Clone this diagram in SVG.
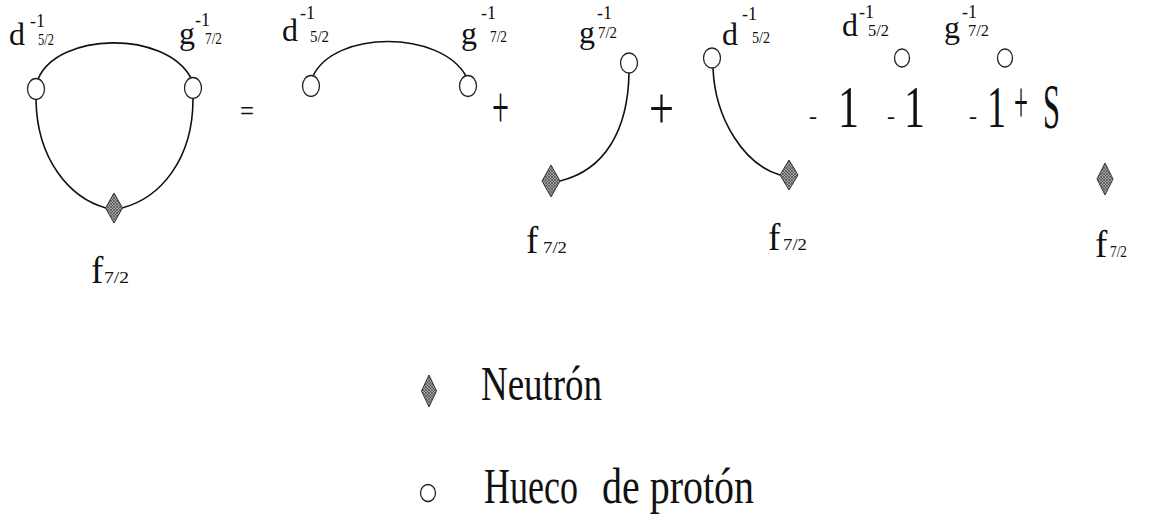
<svg xmlns="http://www.w3.org/2000/svg" width="1167" height="518" viewBox="0 0 1167 518">
<defs>
<pattern id="hatch" width="3" height="3" patternUnits="userSpaceOnUse"><rect width="3" height="3" fill="#a4a4a4"/><path d="M0,0L3,3M3,0L0,3" stroke="#3a3a3a" stroke-width="0.6"/></pattern>
<style>
text{font-family:"Liberation Serif","Times New Roman",serif;fill:#111}
.big{font-size:32px}
.f{font-size:37px}
.sup{font-size:18px}
.sub{font-size:17px}
.hole{fill:#fff;stroke:#222;stroke-width:1.3}
.neu{fill:url(#hatch);stroke:#333;stroke-width:1}
.line{fill:none;stroke:#111;stroke-width:1.6}
.op{font-size:60px}
.leg{font-size:48px}
</style>
</defs>
<rect width="1167" height="518" fill="#fff"/>

<g id="connectors">
<path class="line" d="M38,79 C58,32 165,30 191,78"/>
<path class="line" d="M36,100 C37,160 70,198 106,208"/>
<path class="line" d="M193,99 C193,160 160,198 122,208"/>
<path class="line" d="M313,76 C335,30 440,30 466,76"/>
<path class="line" d="M629,73 C628,130 605,170 560,181"/>
<path class="line" d="M713,68 C715,120 745,165 780,175"/>
</g>

<!-- Diagram 1 -->
<g id="n1-d">
<ellipse class="hole" cx="36" cy="89" rx="8.5" ry="10.5"/>
<text class="big" x="9" y="45">d</text>
<text class="sup" x="30" y="27">-1</text>
<text class="sub" x="38" y="45" textLength="16" lengthAdjust="spacingAndGlyphs">5/2</text>
</g>
<g id="n1-g">
<ellipse class="hole" cx="193" cy="88" rx="8.5" ry="10.5"/>
<text class="big" x="179" y="44">g</text>
<text class="sup" x="195" y="26">-1</text>
<text class="sub" x="205" y="44" textLength="17" lengthAdjust="spacingAndGlyphs">7/2</text>
</g>
<g id="n1-f">
<polygon class="neu" points="114,193 122.5,208 114,223 105.5,208"/>
<text class="f" x="91" y="283">f</text>
<text class="sub" x="104" y="283" textLength="25" lengthAdjust="spacingAndGlyphs">7/2</text>
</g>

<text id="op-eq" x="240" y="121" style="font-size:30px" textLength="14" lengthAdjust="spacingAndGlyphs">=</text>

<!-- Diagram 2 -->
<g id="n2-d">
<ellipse class="hole" cx="311" cy="86" rx="8.5" ry="10.5"/>
<text class="big" x="282" y="41">d</text>
<text class="sup" x="300" y="19">-1</text>
<text class="sub" x="310" y="42" textLength="19" lengthAdjust="spacingAndGlyphs">5/2</text>
</g>
<g id="n2-g">
<ellipse class="hole" cx="468" cy="86" rx="8.5" ry="10.5"/>
<text class="big" x="461" y="44">g</text>
<text class="sup" x="481" y="19">-1</text>
<text class="sub" x="490" y="42" textLength="17" lengthAdjust="spacingAndGlyphs">7/2</text>
</g>

<text id="op-plus1" class="op" x="492" y="127" textLength="17" lengthAdjust="spacingAndGlyphs">+</text>

<!-- Diagram 3 -->
<g id="n3-g">
<ellipse class="hole" cx="629" cy="63" rx="8.5" ry="10"/>
<text class="big" x="579" y="43">g</text>
<text class="sup" x="597" y="19">-1</text>
<text class="sub" x="598" y="38" textLength="19" lengthAdjust="spacingAndGlyphs">7/2</text>
</g>
<g id="n3-f">
<polygon class="neu" points="551,165 560,181 551,197 542,181"/>
<text class="f" x="526" y="253">f</text>
<text class="sub" x="543" y="253" textLength="24" lengthAdjust="spacingAndGlyphs">7/2</text>
</g>

<text id="op-plus2" class="op" x="649" y="128" textLength="25" lengthAdjust="spacingAndGlyphs">+</text>

<!-- Diagram 4 -->
<g id="n4-d">
<ellipse class="hole" cx="712" cy="58" rx="8.5" ry="10"/>
<text class="big" x="722" y="45">d</text>
<text class="sup" x="742" y="20">-1</text>
<text class="sub" x="752" y="43" textLength="18" lengthAdjust="spacingAndGlyphs">5/2</text>
</g>
<g id="n4-f">
<polygon class="neu" points="789,160 798,175 789,190 780,175"/>
<text class="f" x="768" y="250">f</text>
<text class="sub" x="783" y="250" textLength="24" lengthAdjust="spacingAndGlyphs">7/2</text>
</g>

<!-- Remaining terms -->
<text id="op-minus1" style="font-size:24px" x="809" y="124" textLength="8" lengthAdjust="spacingAndGlyphs">-</text>
<text id="one1" class="op" x="838" y="127" textLength="21" lengthAdjust="spacingAndGlyphs">1</text>

<g id="n5-d">
<ellipse class="hole" cx="902" cy="58" rx="7.5" ry="9"/>
<text class="big" x="842" y="36">d</text>
<text class="sup" x="859" y="18">-1</text>
<text class="sub" x="868" y="36" textLength="21" lengthAdjust="spacingAndGlyphs">5/2</text>
</g>

<text id="op-minus2" style="font-size:24px" x="887" y="124" textLength="8" lengthAdjust="spacingAndGlyphs">-</text>
<text id="one2" class="op" x="904" y="127" textLength="21" lengthAdjust="spacingAndGlyphs">1</text>

<g id="n6-g">
<ellipse class="hole" cx="1005" cy="58" rx="7.5" ry="9"/>
<text class="big" x="944" y="38">g</text>
<text class="sup" x="962" y="18">-1</text>
<text class="sub" x="968" y="36" textLength="21" lengthAdjust="spacingAndGlyphs">7/2</text>
</g>

<text id="op-minus3" style="font-size:24px" x="969" y="124" textLength="8" lengthAdjust="spacingAndGlyphs">-</text>
<text id="one3" class="op" x="987" y="127" textLength="19" lengthAdjust="spacingAndGlyphs">1</text>

<text id="op-plus3" class="op" x="1014" y="122" textLength="14" lengthAdjust="spacingAndGlyphs">+</text>
<text id="S" style="font-size:64px" x="1043" y="128" textLength="17" lengthAdjust="spacingAndGlyphs">S</text>

<g id="n7-f">
<polygon class="neu" points="1105,163 1113,179 1105,195 1097,179"/>
<text class="f" x="1095" y="257">f</text>
<text class="sub" x="1110" y="257" textLength="17" lengthAdjust="spacingAndGlyphs">7/2</text>
</g>

<!-- Legend -->
<g id="legend-neutron">
<polygon class="neu" points="429,375 436.5,391 429,407 421.5,391"/>
<text class="leg" x="481" y="400" textLength="121" lengthAdjust="spacingAndGlyphs">Neutrón</text>
</g>
<g id="legend-hole">
<ellipse class="hole" cx="428" cy="493" rx="7.5" ry="8.5"/>
<text class="leg" style="font-size:50px" x="484" y="503" textLength="94" lengthAdjust="spacingAndGlyphs">Hueco</text>
<text class="leg" style="font-size:50px" x="602" y="503" textLength="152" lengthAdjust="spacingAndGlyphs">de protón</text>
</g>
</svg>
